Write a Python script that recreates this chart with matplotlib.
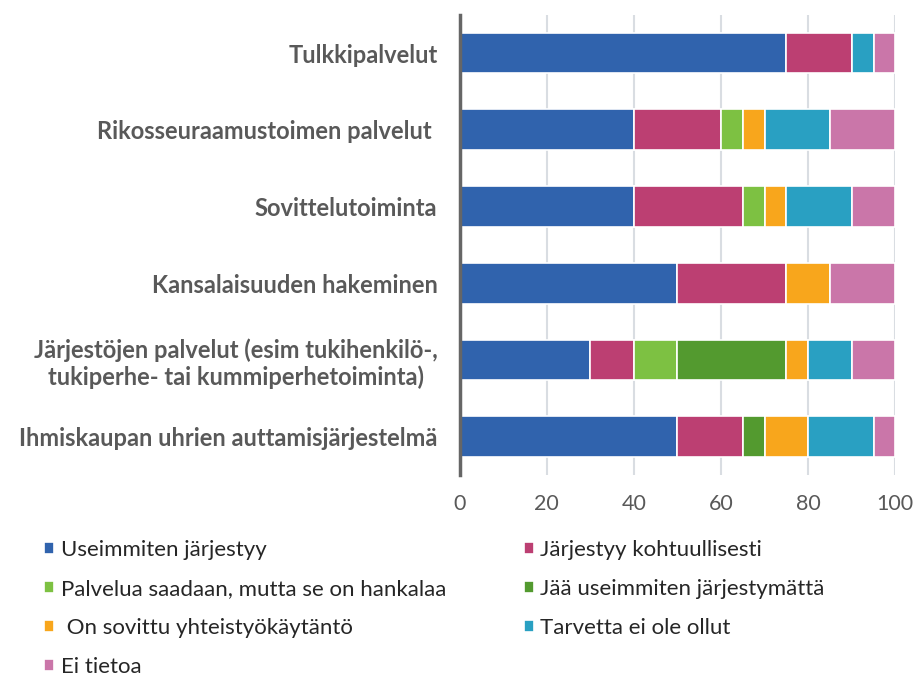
import numpy as np
import matplotlib
matplotlib.use("Agg")
import matplotlib.pyplot as plt

plt.rcParams['font.family'] = ['Lato', 'DejaVu Sans']

# Categories, top to bottom
categories = [
    "Tulkkipalvelut",
    "Rikosseuraamustoimen palvelut ",
    "Sovittelutoiminta",
    "Kansalaisuuden hakeminen",
    "Järjestöjen palvelut (esim tukihenkilö-,\ntukiperhe- tai kummiperhetoiminta)",
    "Ihmiskaupan uhrien auttamisjärjestelmä",
]

series_names = [
    "Useimmiten järjestyy",
    "Järjestyy kohtuullisesti",
    "Palvelua saadaan, mutta se on hankalaa",
    "Jää useimmiten järjestymättä",
    " On sovittu yhteistyökäytäntö",
    "Tarvetta ei ole ollut",
    "Ei tietoa",
]

useimmiten = [75, 40, 40, 50, 30, 50]
kohtuullisesti = [15, 20, 25, 25, 10, 15]
hankalaa = [0, 5, 5, 0, 10, 0]
jarjestymatta = [0, 0, 0, 0, 25, 5]
sovittu = [0, 5, 5, 10, 5, 10]
tarvetta = [5, 15, 15, 0, 10, 15]
ei_tietoa = [5, 15, 10, 15, 10, 5]

series = [useimmiten, kohtuullisesti, hankalaa, jarjestymatta, sovittu, tarvetta, ei_tietoa]
colors = ["#3063AD", "#BC3F72", "#7DC142", "#539A2F", "#F8A61C", "#29A0C2", "#CA76A9"]

fig = plt.figure(figsize=(9.23, 6.82), dpi=100)
ax = fig.add_axes([0.498, 0.3035, 0.472, 0.675])

y = np.arange(len(categories))
left = np.zeros(len(categories))
handles = []
for vals, name, col in zip(series, series_names, colors):
    vals = np.array(vals, dtype=float)
    h = ax.barh(y, vals, left=left, height=0.53, color=col, edgecolor="white",
                linewidth=1.2, label=name, zorder=3)
    handles.append(h)
    left += vals

ax.set_xlim(0, 100)
ax.set_ylim(len(categories) - 0.5, -0.5)
ax.set_xticks([0, 20, 40, 60, 80, 100])
ax.set_yticks(y)
ax.set_yticklabels(categories, fontweight="bold", fontsize=17, color="#595959",
                   multialignment="center")
ax.tick_params(axis="y", length=0, pad=16)
ax.tick_params(axis="x", length=0, labelsize=15.5, labelcolor="#595959", pad=14)

ax.grid(axis="x", color="#D9DDE2", linewidth=1.5, zorder=0)
for s in ["top", "right", "bottom"]:
    ax.spines[s].set_visible(False)
ax.spines["left"].set_color("#666666")
ax.spines["left"].set_linewidth(2.5)
ax.spines["left"].set_zorder(4)

order = [0, 2, 4, 6, 1, 3, 5]
leg = fig.legend([handles[i] for i in order], [series_names[i] for i in order],
                 loc="upper left", bbox_to_anchor=(0.026, 0.237), ncol=2,
                 frameon=False, fontsize=16, handlelength=0.45, handleheight=0.45,
                 handletextpad=0.3, columnspacing=3.5, labelspacing=0.85,
                 labelcolor="#262626")

fig.savefig("out.png", dpi=100)
